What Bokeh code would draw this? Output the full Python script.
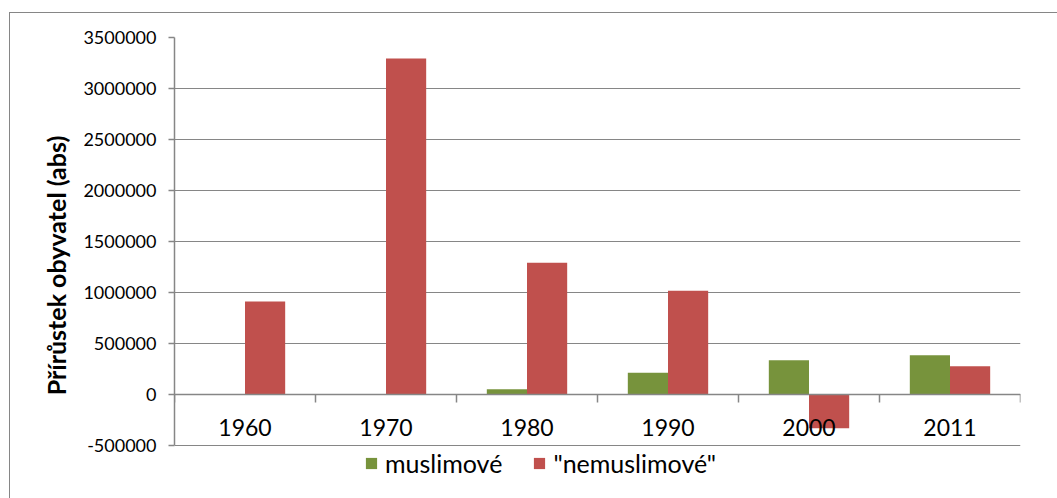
from bokeh.plotting import figure
from bokeh.layouts import column
from bokeh.models import (Range1d, FixedTicker, NumeralTickFormatter, Span, Legend,
                          LegendItem)
from bokeh.core.properties import value
from bokeh.embed import file_html
from bokeh.resources import INLINE

# ---- data ----
years = ["1960", "1970", "1980", "1990", "2000", "2011"]
muslims = [0, 6000, 52000, 213000, 337000, 386000]
non_muslims = [912000, 3295000, 1292000, 1016000, -330000, 278000]
series_names = ["muslimové", "\"nemuslimové\""]
y_ticks = [-500000, 0, 500000, 1000000, 1500000, 2000000, 2500000, 3000000, 3500000]

GREEN = "#77933C"
RED = "#C0504D"
GREY = "#868686"
FONT = "Lato"

n = len(years)
centers = [i + 0.5 for i in range(n)]
bar_w = 0.285

# layout geometry (pixels)
FIG_W, FIG_H = 1047, 485
B_LEFT, B_RIGHT, B_TOP, B_BOTTOM = 164, 37, 24, 5
AXIS_PX = 408            # pixel height of the value axis span
EXTRA_PX = 48            # frame space below the lowest tick, used for the legend
span = y_ticks[-1] - y_ticks[0]
y_start = y_ticks[0] - EXTRA_PX * span / AXIS_PX

p = figure(width=FIG_W, height=FIG_H, output_backend="svg", toolbar_location=None,
           x_range=Range1d(0, n), y_range=Range1d(y_start, y_ticks[-1]),
           min_border_left=B_LEFT, min_border_right=B_RIGHT, min_border_top=B_TOP,
           min_border_bottom=B_BOTTOM, x_axis_location=None, y_axis_location="left")
p.outline_line_color = None
p.background_fill_color = "white"
p.border_fill_color = "white"

# bars
g = p.vbar(x=[c - bar_w / 2 for c in centers], top=muslims, bottom=0, width=bar_w,
           fill_color=GREEN, line_color=None)
r = p.vbar(x=[c + bar_w / 2 for c in centers], top=non_muslims, bottom=0, width=bar_w,
           fill_color=RED, line_color=None)

# y axis
ya = p.yaxis[0]
ya.ticker = FixedTicker(ticks=y_ticks)
ya.bounds = (y_ticks[0], y_ticks[-1])
ya.formatter = NumeralTickFormatter(format="0")
ya.axis_line_color = GREY
ya.axis_line_width = 1.5
ya.major_tick_line_color = GREY
ya.major_tick_line_width = 1.5
ya.major_tick_out = 6
ya.major_tick_in = 0
ya.minor_tick_line_color = None
ya.major_label_text_font = FONT
ya.major_label_text_font_size = "18px"
ya.major_label_text_color = "black"
ya.major_label_standoff = 12
ya.axis_label = "Přírůstek obyvatel (abs)"
ya.axis_label_text_font = FONT
ya.axis_label_text_font_style = "bold"
ya.axis_label_text_font_size = "25px"
ya.axis_label_text_color = "black"
ya.axis_label_standoff = 9

p.ygrid.ticker = FixedTicker(ticks=y_ticks)
p.ygrid.grid_line_color = GREY
p.ygrid.grid_line_width = 1.2
p.xgrid.grid_line_color = None

# zero line with category separators
p.add_layout(Span(location=0, dimension="width", line_color=GREY, line_width=1.5))
sep = list(range(n + 1))
tick_len = span / AXIS_PX * 8
p.segment(x0=sep, y0=[0] * len(sep), x1=sep, y1=[-tick_len] * len(sep),
          line_color=GREY, line_width=1.5)

# category labels under the zero line
p.text(x=centers, y=[0] * n, text=years, text_align="center", text_baseline="middle",
       y_offset=33, text_font=value(FONT), text_font_size="23px", text_color="black")

legend = Legend(items=[LegendItem(label=series_names[0], renderers=[g]),
                       LegendItem(label=series_names[1], renderers=[r])],
                orientation="horizontal", location=(190, 15))
legend.label_text_font = FONT
legend.label_text_font_size = "25px"
legend.label_text_color = "black"
legend.glyph_width = 14
legend.glyph_height = 14
legend.label_standoff = 7
legend.spacing = 30
legend.padding = 0
legend.margin = 0
legend.border_line_color = None
legend.background_fill_alpha = 0
p.add_layout(legend)

layout = column(p, styles={"margin-left": "9px", "margin-top": "12px",
                           "border-left": "1px solid " + GREY,
                           "border-top": "1px solid " + GREY})

open("out.html", "w").write(file_html(layout, INLINE))
